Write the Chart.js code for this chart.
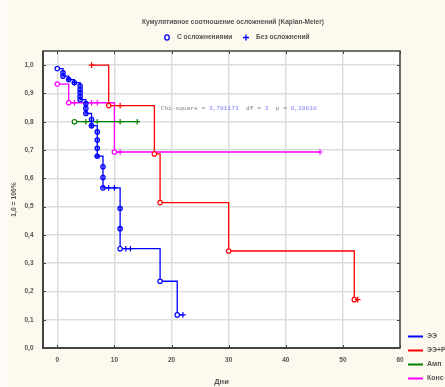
<!DOCTYPE html>
<html>
<head>
  <meta charset="utf-8">
  <title>Kaplan-Meier</title>
  <script src="https://cdn.jsdelivr.net/npm/chart.js@4.4.0/dist/chart.umd.min.js"></script>
  <style>
    html, body { margin: 0; padding: 0; background: #fdf9ee; }
  </style>
</head>
<body>
  <canvas id="km" width="445" height="387"></canvas>

  <script>
    // ЭЭ  (o = событие, f = несколько событий, + = цензурировано)
    const eeDays = [0, 1, 1, 2, 2, 3, 3, 4, 4, 4, 4, 4, 5, 5, 5, 6, 6, 6, 7, 7, 7, 7, 7, 8, 8, 8, 9, 10, 11, 11, 11, 12, 12.8, 18, 21, 22];
    const eeSurv = [0.988, 0.973, 0.961, 0.949, 0.949, 0.938, 0.938, 0.926, 0.914, 0.902, 0.890, 0.878, 0.864, 0.847, 0.829, 0.808, 0.786, 0.786,
                    0.764, 0.735, 0.706, 0.678, 0.678, 0.641, 0.603, 0.566, 0.566, 0.566, 0.493, 0.422, 0.351, 0.351, 0.351, 0.236, 0.117, 0.117];
    const eeMark = ['o', 'f', 'f', 'f', '+', 'f', '+', 'f', 'f', 'f', 'f', 'f', 'f', 'f', 'f', 'f', 'f', '+',
                    'f', 'f', 'f', 'f', '+', 'f', 'f', 'f', '+', '+', 'f', 'f', 'o', '+', '+', 'o', 'o', '+'];

    // ЭЭ+Р
    const eerDays = [6, 9, 11, 17, 18, 30, 52, 52.6];
    const eerSurv = [1.0, 0.857, 0.857, 0.686, 0.514, 0.343, 0.171, 0.171];
    const eerMark = ['+', 'o', '+', 'o', 'o', 'o', 'o', '+'];

    // Амп
    const ampDays = [3, 5, 7, 11, 14];
    const ampSurv = [0.8, 0.8, 0.8, 0.8, 0.8];
    const ampMark = ['o', '+', '+', '+', '+'];

    // Конс
    const konsDays = [0, 2, 3, 6, 7, 10, 11, 46];
    const konsSurv = [0.933, 0.867, 0.867, 0.867, 0.867, 0.693, 0.693, 0.693];
    const konsMark = ['o', 'o', '+', '+', '+', 'o', '+', '+'];

    const seriesNames = ['ЭЭ', 'ЭЭ+Р', 'Амп', 'Конс'];
    const seriesColors = ['#0000ff', '#ff0000', '#008000', '#ff00ff'];

    const xTicks = [0, 10, 20, 30, 40, 50, 60];
    const yTicks = [0, 0.1, 0.2, 0.3, 0.4, 0.5, 0.6, 0.7, 0.8, 0.9, 1.0];

    const chartTitle = 'Кумулятивное соотношение осложнений (Kaplan-Meier)';
    const markNames = ['С осложнениями', 'Без осложнений'];
    const chiText = [['Chi-square = ', '#808080'], ['3,781173', '#8080ff'], ['  df = ', '#808080'], ['3', '#8080ff'],
                     ['  p = ', '#808080'], ['0,28610', '#8080ff']];

    const labelFont = 'Liberation Sans';

    function makeSet(i, days, surv, marks) {
      const color = seriesColors[i];
      return {
        label: seriesNames[i],
        data: days.map((d, k) => ({x: d, y: surv[k]})),
        stepped: true,
        borderColor: color,
        backgroundColor: color,
        borderWidth: 1.3,
        order: i,
        pointStyle: c => marks[c.dataIndex] === '+' ? 'cross' : 'circle',
        pointRadius: c => marks[c.dataIndex] === '+' ? 2.8 : 2.2,
        pointBorderWidth: 1.2,
        pointBorderColor: color,
        pointBackgroundColor: c => marks[c.dataIndex] === 'f' ? 'rgba(0,0,255,0.3)' : '#ffffff',
        pointHoverRadius: 3
      };
    }

    // фон, рамка, заголовок, легенды, текст хи-квадрат
    const decor = {
      id: 'decor',
      beforeDraw(chart) {
        const {ctx, chartArea: a} = chart;
        ctx.save();
        ctx.fillStyle = '#fdf9ee';
        ctx.fillRect(0, 0, chart.width, chart.height);
        ctx.fillStyle = '#fffdf9';
        ctx.fillRect(0, 0, 7, chart.height);
        ctx.fillStyle = '#ffffff';
        ctx.fillRect(a.left, a.top, a.right - a.left, a.bottom - a.top);
        ctx.restore();
      },
      afterDraw(chart) {
        const {ctx, chartArea: a, scales: {x, y}} = chart;
        ctx.save();

        // короткие риски внутрь
        ctx.strokeStyle = '#444';
        ctx.lineWidth = 1;
        ctx.beginPath();
        xTicks.forEach(v => {
          const px = Math.round(x.getPixelForValue(v)) + 0.5;
          ctx.moveTo(px, a.bottom); ctx.lineTo(px, a.bottom - 3);
          ctx.moveTo(px, a.top); ctx.lineTo(px, a.top + 3);
        });
        yTicks.forEach(v => {
          const py = Math.round(y.getPixelForValue(v)) + 0.5;
          ctx.moveTo(a.left, py); ctx.lineTo(a.left + 3, py);
          ctx.moveTo(a.right, py); ctx.lineTo(a.right - 3, py);
        });
        ctx.stroke();

        // рамка
        ctx.lineWidth = 1.5;
        ctx.strokeRect(a.left, a.top, a.right - a.left, a.bottom - a.top);
        ctx.lineWidth = 2;
        ctx.beginPath();
        ctx.moveTo(a.left, a.top); ctx.lineTo(a.left, a.bottom); ctx.lineTo(a.right, a.bottom);
        ctx.stroke();

        // заголовок
        ctx.font = 'bold 6.6px ' + labelFont;
        ctx.textBaseline = 'middle';
        ctx.textAlign = 'center';
        ctx.fillStyle = '#555';
        ctx.fillText(chartTitle, 233, 22);

        // легенда маркеров сверху
        ctx.textAlign = 'left';
        ctx.fillText(markNames[0], 177, 37.5);
        ctx.fillText(markNames[1], 256, 37.5);
        ctx.strokeStyle = '#0000ff';
        ctx.lineWidth = 1.3;
        ctx.beginPath();
        ctx.ellipse(167, 37.5, 2.2, 2.6, 0, 0, Math.PI * 2);
        ctx.stroke();
        ctx.beginPath();
        ctx.moveTo(243, 37.5); ctx.lineTo(249, 37.5);
        ctx.moveTo(246, 34.5); ctx.lineTo(246, 40.5);
        ctx.stroke();

        // легенда серий справа внизу
        ctx.font = 'bold 7px ' + labelFont;
        seriesNames.forEach((name, i) => {
          const ly = 336.5 + i * 14;
          ctx.strokeStyle = seriesColors[i];
          ctx.lineWidth = 2;
          ctx.beginPath();
          ctx.moveTo(408, ly); ctx.lineTo(423, ly);
          ctx.stroke();
          ctx.fillStyle = '#555';
          ctx.fillText(name, 427, ly);
        });

        // хи-квадрат
        ctx.font = '6.2px "Liberation Mono"';
        let tx = x.getPixelForValue(18.1);
        const ty = y.getPixelForValue(0.848);
        chiText.forEach(([t, c]) => {
          ctx.fillStyle = c;
          ctx.fillText(t, tx, ty);
          tx += ctx.measureText(t).width;
        });

        ctx.restore();
      }
    };

    const ctx = document.getElementById('km').getContext('2d');
    const kmChart = new Chart(ctx, {
      type: 'line',
      data: {
        datasets: [
          makeSet(0, eeDays, eeSurv, eeMark),
          makeSet(1, eerDays, eerSurv, eerMark),
          makeSet(2, ampDays, ampSurv, ampMark),
          makeSet(3, konsDays, konsSurv, konsMark)
        ]
      },
      options: {
        responsive: false,
        animation: false,
        layout: { padding: { left: 0, right: 45, top: 51, bottom: 0 } },
        scales: {
          x: {
            type: 'linear',
            min: -2.5,
            max: 60,
            afterBuildTicks: s => { s.ticks = xTicks.map(v => ({value: v})); },
            afterFit: s => { s.height = 39; },
            grid: { color: '#dddddd', lineWidth: 1.5, drawTicks: false },
            border: { display: false },
            ticks: {
              padding: 8,
              color: '#555',
              font: { family: labelFont, size: 6.5, weight: 'bold' },
              callback: v => String(v)
            },
            title: {
              display: true,
              text: 'Дни',
              color: '#555',
              font: { family: labelFont, size: 7.5, weight: 'bold' },
              padding: { top: 0, bottom: 0.5 }
            }
          },
          y: {
            min: 0,
            max: 1.05,
            afterBuildTicks: s => { s.ticks = yTicks.map(v => ({value: v})); },
            afterFit: s => { s.width = 43; },
            grid: { color: '#dddddd', lineWidth: 1.5, drawTicks: false },
            border: { display: false },
            ticks: {
              padding: 9.5,
              color: '#555',
              font: { family: labelFont, size: 6.5, weight: 'bold' },
              callback: v => v.toFixed(1).replace('.', ',')
            },
            title: {
              display: true,
              text: '1,0 = 100%',
              color: '#555',
              font: { family: labelFont, size: 6.8, weight: 'bold' },
              padding: { top: 10, bottom: 0 }
            }
          }
        },
        plugins: {
          legend: { display: false },
          tooltip: { enabled: false },
          title: { display: false }
        }
      },
      plugins: [decor]
    });
  </script>
</body>
</html>
